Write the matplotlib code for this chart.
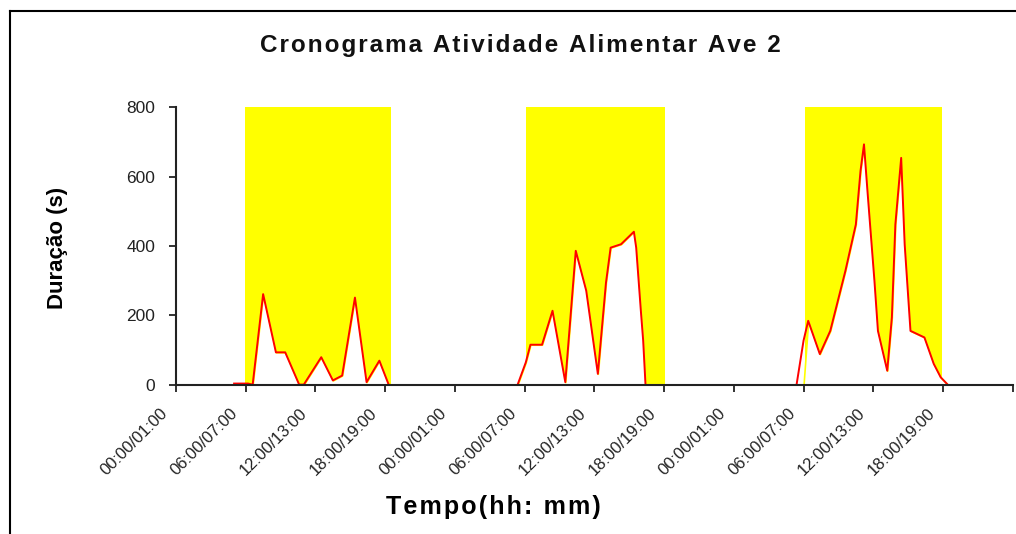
import matplotlib.pyplot as plt
import matplotlib.transforms as mtransforms
from matplotlib.patches import Rectangle
from matplotlib.lines import Line2D

# light period (hours) and feeding duration readings for each day
light_start = [5.9, 30.1, 54.1]
light_end = [18.5, 42.1, 65.9]

day1_h = [5.0, 6.2, 6.6, 7.5, 8.6, 9.4, 10.6, 11.0, 12.5, 13.5, 14.3, 15.4, 16.4, 17.5, 18.3]
day1_v = [3, 3, 0, 261, 93, 93, 0, 0, 79, 12, 26, 251, 7, 69, 0]

day2_h = [29.4, 30.1, 30.5, 31.5, 32.4, 33.5, 34.4, 35.3, 36.3, 37.0, 37.4, 38.3, 39.4, 39.6, 40.0, 40.2, 40.4]
day2_v = [0, 64, 115, 115, 213, 7, 386, 271, 31, 294, 395, 405, 441, 395, 213, 127, 0]

day3_h = [53.4, 54.0, 54.4, 55.4, 56.3, 57.6, 58.5, 58.9, 59.2, 59.5, 60.1, 60.4, 61.2, 61.6, 61.9,
          62.4, 62.7, 63.2, 64.4, 65.2, 65.8, 66.4]
day3_v = [0, 127, 184, 88, 155, 328, 462, 616, 693, 558, 299, 155, 40, 194, 462,
          654, 405, 155, 136, 60, 21, 0]

tick_hours = list(range(0, 73, 6))
tick_labels = ["00:00/01:00", "06:00/07:00", "12:00/13:00", "18:00/19:00"] * 3 + [""]

title = "Cronograma Atividade Alimentar Ave 2"
xlabel = "Tempo(hh: mm)"

fig = plt.figure(figsize=(10.16, 5.34), dpi=100)
ax = fig.add_axes([0.1732, 0.2798, 0.8236, 0.5193])

days = [(day1_h, day1_v), (day2_h, day2_v), (day3_h, day3_v)]
for s, e, (h, v) in zip(light_start, light_end, days):
    ax.add_patch(Rectangle((s, 0), e - s, 800, facecolor='#ffff00', edgecolor='none', zorder=1))
    ax.fill_between(h, 0, v, where=[(s <= x <= e) for x in h], interpolate=True,
                    facecolor='white', edgecolor='#ffff00', linewidth=1.2, zorder=2)
    ax.plot(h, v, color='#ff0000', linewidth=1.4, zorder=3)

ax.set_xlim(0, 72)
ax.set_ylim(0, 800)
ax.set_yticks([0, 200, 400, 600, 800])
ax.set_xticks(tick_hours)
ax.set_xticklabels([])

# rotated tick labels, shifted down-left of each tick like the original
offset = mtransforms.ScaledTranslation(-16 / 100, -21 / 100, fig.dpi_scale_trans)
for h, lab in zip(tick_hours, tick_labels):
    ax.text(h, 0, lab, rotation=45, ha='right', va='top', rotation_mode='anchor',
            fontsize=12, fontfamily='Liberation Sans', color='#222222',
            transform=ax.get_xaxis_transform() + offset)

for lbl in ax.get_yticklabels():
    lbl.set_fontfamily('Liberation Sans')
    lbl.set_fontsize(12.5)
    lbl.set_color('#222222')

ax.tick_params(axis='both', direction='out', length=5, width=1.3, color='#222222')
ax.tick_params(axis='y', pad=10)
for side in ['top', 'right']:
    ax.spines[side].set_visible(False)
for side in ['left', 'bottom']:
    ax.spines[side].set_linewidth(1.5)
    ax.spines[side].set_color('#222222')
    ax.spines[side].set_zorder(4)

fig.text(0.512, 0.915, "\u200a".join(title), ha='center', va='center',
         fontsize=17.5, fontweight='bold', fontfamily='Liberation Sans', color='#111111')
fig.text(0.057, 0.535, "Duração (s)", rotation=90, ha='center', va='center',
         fontsize=16, fontweight='bold', fontfamily='Liberation Sans')
fig.text(0.486, 0.05, "\u200a".join(xlabel), ha='center', va='center',
         fontsize=18, fontweight='bold', fontfamily='Liberation Sans')

# outer frame (left and top edges visible)
fig.add_artist(Line2D([0.0098, 0.0098], [0, 0.979], color='black', linewidth=1.5, transform=fig.transFigure))
fig.add_artist(Line2D([0.0098, 1.0], [0.979, 0.979], color='black', linewidth=1.5, transform=fig.transFigure))

fig.savefig('out.png', dpi=100)
